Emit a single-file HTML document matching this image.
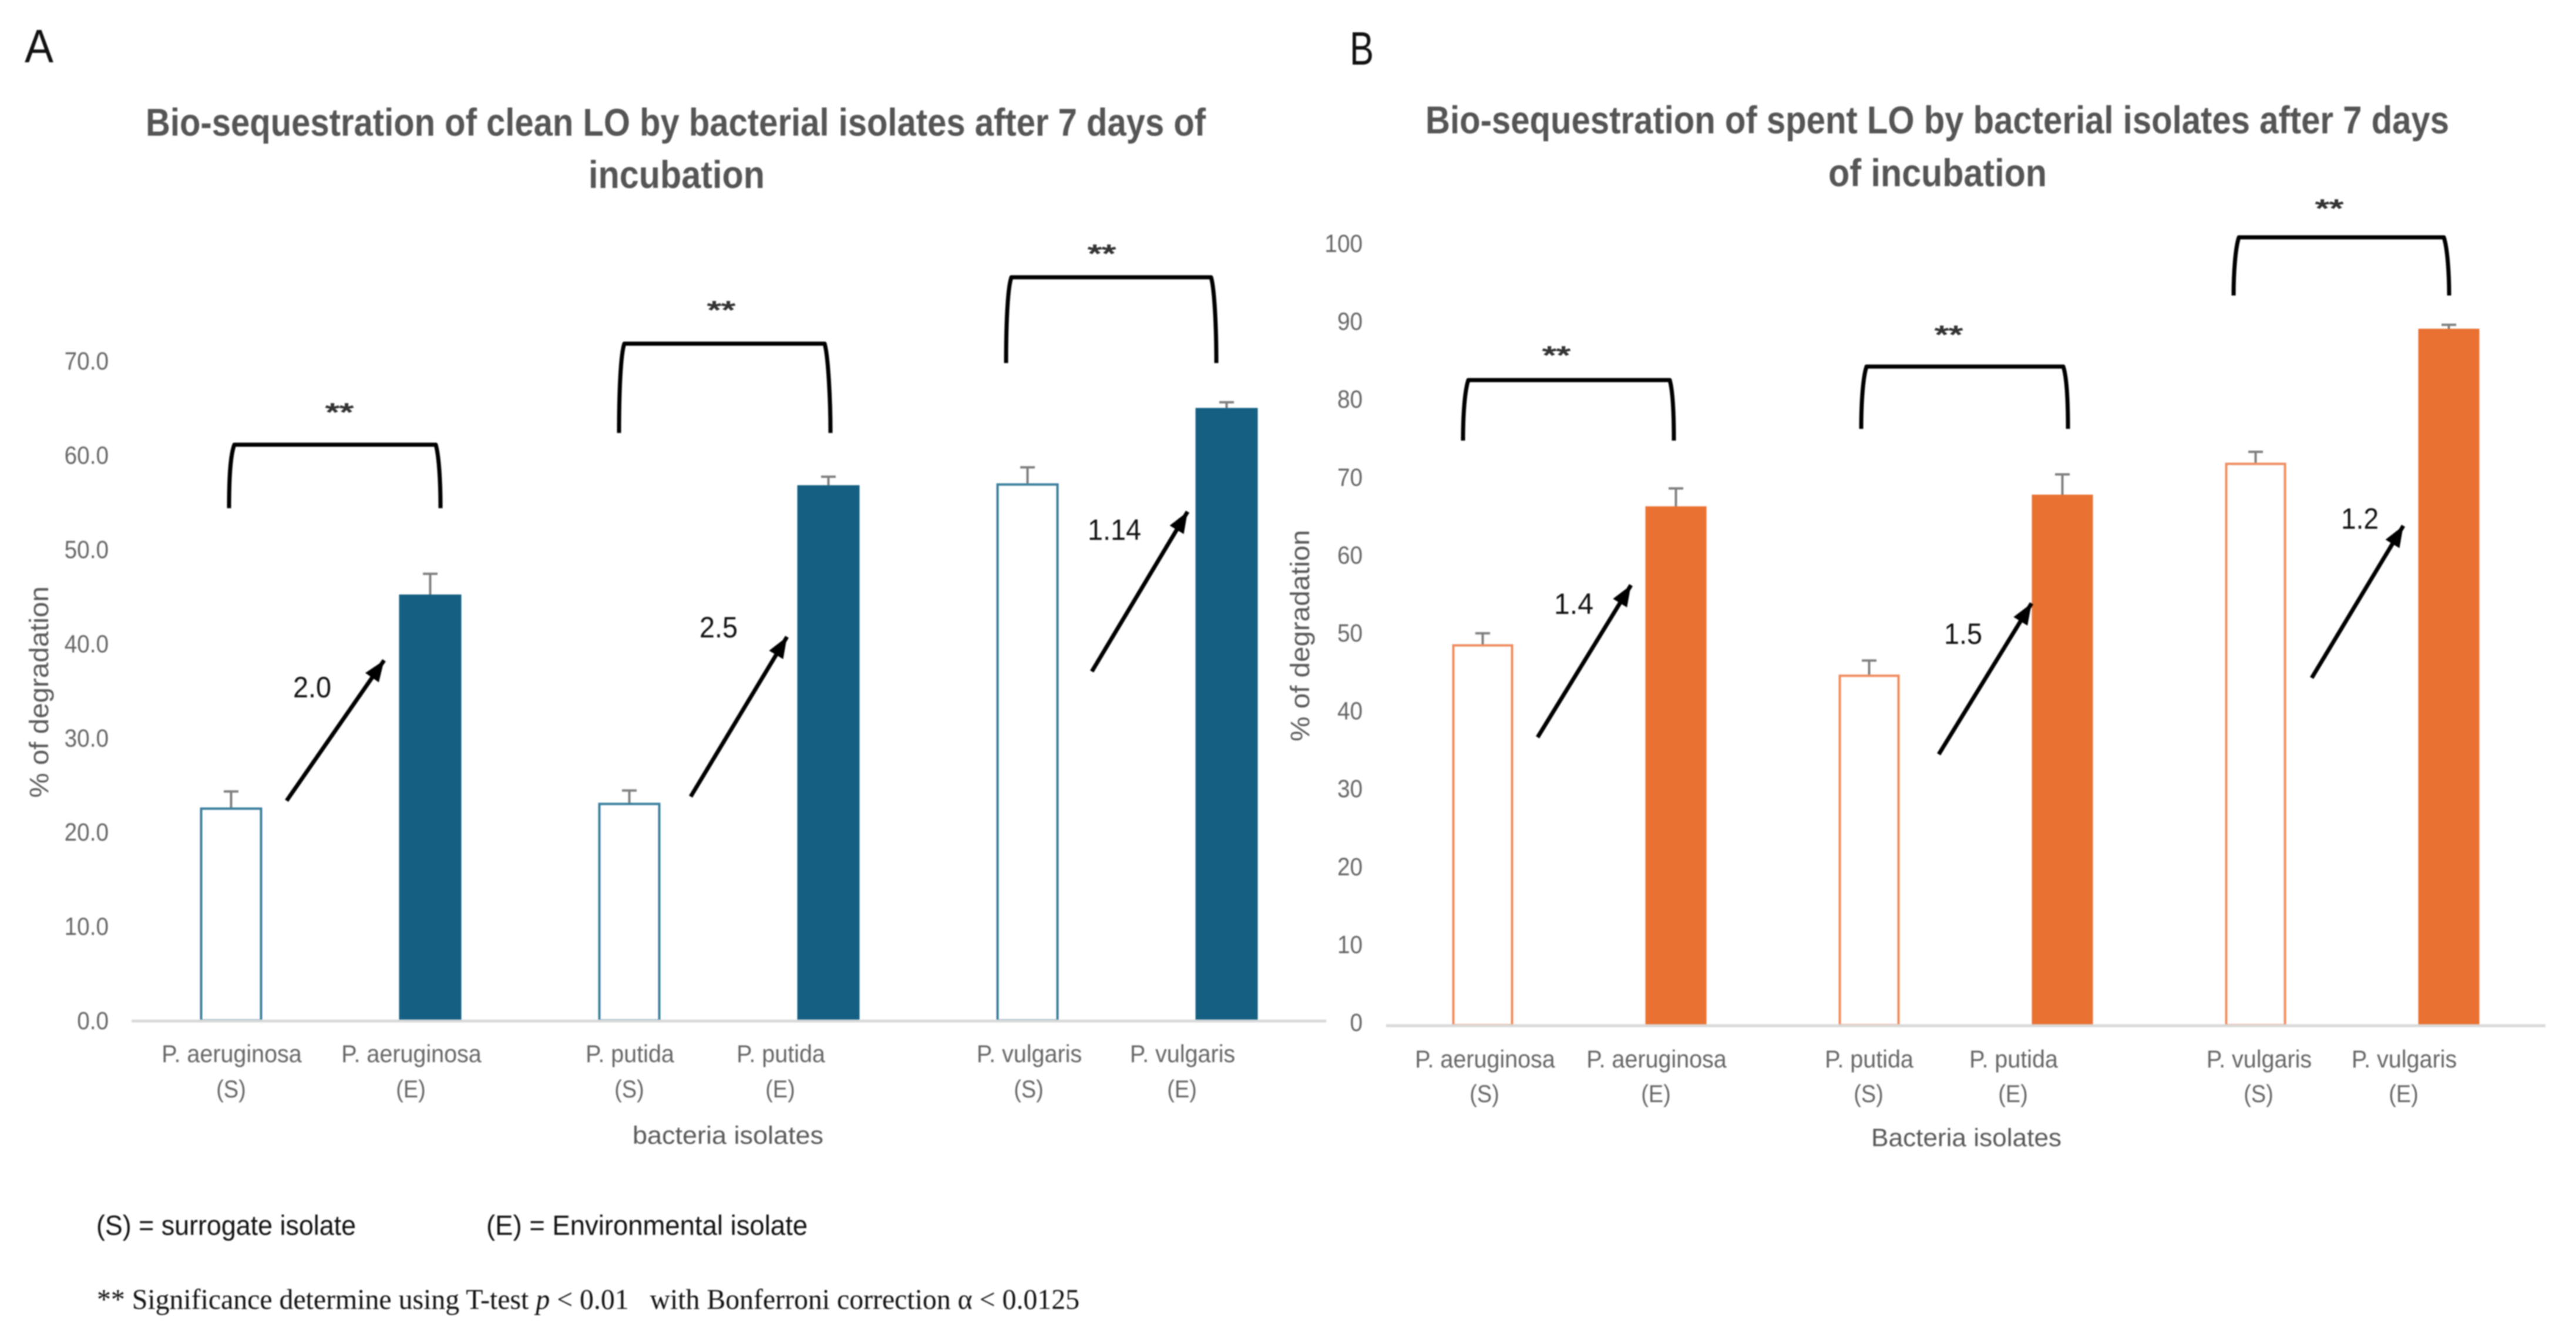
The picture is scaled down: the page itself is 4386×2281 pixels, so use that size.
<!DOCTYPE html>
<html lang="en">
<head>
<meta charset="utf-8">
<title>Bio-sequestration of LO by bacterial isolates</title>
<style>
html,body{margin:0;padding:0;background:#fff;width:4386px;height:2281px;overflow:hidden}
svg{display:block;filter:blur(1.1px)}
text{font-family:"Liberation Sans",sans-serif}
.title{font-weight:700;font-size:66px;fill:#555}
.panel{font-size:80px;fill:#111}
.axt{font-size:43px;fill:#595959}
.fold{font-size:50px;fill:#111}
.star{font-size:42px;fill:#333;stroke:#333;stroke-width:1.5}
.note{font-size:47px;fill:#111}
.serif{font-family:"Liberation Serif",serif;font-size:49px;fill:#111}
.bracket{fill:none;stroke:#000;stroke-width:7;stroke-linecap:butt;stroke-linejoin:round}
.arrow{stroke:#000;stroke-width:7;marker-end:url(#arrowhead)}
</style>
</head>
<body>
<svg id="figure" xmlns="http://www.w3.org/2000/svg" width="4386" height="2281" viewBox="0 0 4386 2281">
  <defs>
    <marker id="arrowhead" markerUnits="userSpaceOnUse" markerWidth="40" markerHeight="32" refX="36" refY="14" orient="auto">
      <path d="M0 0 L36 14 L0 28 Z" fill="#000"></path>
    </marker>
  </defs>
  <rect width="4386" height="2281" fill="#fff"></rect>

  <text class="panel" x="42" y="106" textLength="49" lengthAdjust="spacingAndGlyphs">A</text>
  <text class="panel" x="2298" y="110" textLength="41" lengthAdjust="spacingAndGlyphs">B</text>

  <g>
    <text class="title" x="248" y="231" textLength="1805" lengthAdjust="spacingAndGlyphs">Bio-sequestration of clean LO by bacterial isolates after 7 days of</text>
    <text class="title" x="1002" y="320" textLength="300" lengthAdjust="spacingAndGlyphs">incubation</text>
  </g>
  <g>
    <text class="title" x="2427" y="227" textLength="1743" lengthAdjust="spacingAndGlyphs">Bio-sequestration of spent LO by bacterial isolates after 7 days</text>
    <text class="title" x="3113" y="317" textLength="372" lengthAdjust="spacingAndGlyphs">of incubation</text>
  </g>

  <text class="axt" style="font-size:45px" transform="translate(82 1358) rotate(-90)" textLength="360" lengthAdjust="spacingAndGlyphs">% of degradation</text>
  <text class="axt" style="font-size:45px" transform="translate(2229 1262) rotate(-90)" textLength="360" lengthAdjust="spacingAndGlyphs">% of degradation</text>
  <text class="axt" x="1077" y="1947" textLength="325" lengthAdjust="spacingAndGlyphs">bacteria isolates</text>
  <text class="axt" x="3186" y="1951" textLength="324" lengthAdjust="spacingAndGlyphs">Bacteria isolates</text>

  <g id="chart-a"></g>
  <g id="chart-b"></g>

  <g>
    <path class="bracket" d="M390 865 C390 815 392 775 399 757 L742 757 C747 775 750 815 750 865"></path>
    <path class="bracket" d="M1054 737 C1054 680 1056 605 1063 585 L1404 585 C1410 605 1414 680 1414 737"></path>
    <path class="bracket" d="M1713 618 C1713 560 1715 492 1722 472 L2062 472 C2068 492 2071 560 2071 618"></path>
    <text class="star" x="578" y="716" text-anchor="middle" textLength="48" lengthAdjust="spacingAndGlyphs">**</text>
    <text class="star" x="1228" y="542" text-anchor="middle" textLength="48" lengthAdjust="spacingAndGlyphs">**</text>
    <text class="star" x="1876" y="446" text-anchor="middle" textLength="48" lengthAdjust="spacingAndGlyphs">**</text>
    <line class="arrow" x1="488" y1="1363" x2="654" y2="1124"></line>
    <line class="arrow" x1="1176" y1="1356" x2="1340" y2="1084"></line>
    <line class="arrow" x1="1859" y1="1143" x2="2022" y2="871"></line>
    <text class="fold" x="499" y="1187" textLength="65" lengthAdjust="spacingAndGlyphs">2.0</text>
    <text class="fold" x="1191" y="1085" textLength="65" lengthAdjust="spacingAndGlyphs">2.5</text>
    <text class="fold" x="1852" y="919" textLength="91" lengthAdjust="spacingAndGlyphs">1.14</text>
  </g>

  <g>
    <path class="bracket" d="M2491 750 C2491 705 2494 665 2500 647 L2843 647 C2848 665 2850 705 2850 750"></path>
    <path class="bracket" d="M3169 730 C3169 685 3172 642 3178 624 L3513 624 C3519 642 3521 685 3521 730"></path>
    <path class="bracket" d="M3803 503 C3803 465 3806 422 3812 404 L4161 404 C4167 422 4170 465 4170 503"></path>
    <text class="star" x="2650" y="619" text-anchor="middle" textLength="48" lengthAdjust="spacingAndGlyphs">**</text>
    <text class="star" x="3318" y="584" text-anchor="middle" textLength="48" lengthAdjust="spacingAndGlyphs">**</text>
    <text class="star" x="3966" y="369" text-anchor="middle" textLength="48" lengthAdjust="spacingAndGlyphs">**</text>
    <line class="arrow" x1="2618" y1="1255" x2="2777" y2="996"></line>
    <line class="arrow" x1="3301" y1="1284" x2="3459" y2="1027"></line>
    <line class="arrow" x1="3936" y1="1154" x2="4092" y2="895"></line>
    <text class="fold" x="2646" y="1045" textLength="67" lengthAdjust="spacingAndGlyphs">1.4</text>
    <text class="fold" x="3310" y="1096" textLength="65" lengthAdjust="spacingAndGlyphs">1.5</text>
    <text class="fold" x="3986" y="900" textLength="64" lengthAdjust="spacingAndGlyphs">1.2</text>
  </g>

  <g>
    <text class="note" x="164" y="2102" textLength="442" lengthAdjust="spacingAndGlyphs">(S) = surrogate isolate</text>
    <text class="note" x="828" y="2102" textLength="547" lengthAdjust="spacingAndGlyphs">(E) = Environmental isolate</text>
    <text class="serif" x="165" y="2228" textLength="1673" lengthAdjust="spacingAndGlyphs" xml:space="preserve">** Significance determine using T-test <tspan font-style="italic">p</tspan> &lt; 0.01   with Bonferroni correction α &lt; 0.0125</text>
  </g>
</svg>

<script>
// Chart A: clean LO
const categoriesA = ['P. aeruginosa (S)', 'P. aeruginosa (E)', 'P. putida (S)', 'P. putida (E)', 'P. vulgaris (S)', 'P. vulgaris (E)'];
const degradationCleanLO = [22.6, 45.2, 23.1, 56.8, 57.0, 65.0];
const errorCleanLO = [1.7, 2.2, 1.3, 0.9, 1.7, 0.6];
const tickLabelsA = ['0.0', '10.0', '20.0', '30.0', '40.0', '50.0', '60.0', '70.0'];

// Chart B: spent LO
const categoriesB = ['P. aeruginosa (S)', 'P. aeruginosa (E)', 'P. putida (S)', 'P. putida (E)', 'P. vulgaris (S)', 'P. vulgaris (E)'];
const degradationSpentLO = [48.9, 66.6, 45.0, 68.1, 72.2, 89.4];
const errorSpentLO = [1.4, 2.3, 1.8, 2.6, 1.4, 0.5];
const tickLabelsB = ['0', '10', '20', '30', '40', '50', '60', '70', '80', '90', '100'];

const SVG_NS = 'http://www.w3.org/2000/svg';

function make(parent, tag, attrs, content) {
  const el = document.createElementNS(SVG_NS, tag);
  for (const k in attrs) el.setAttribute(k, attrs[k]);
  if (content !== undefined) el.textContent = content;
  parent.appendChild(el);
  return el;
}

function condense(textEl, factor) {
  const natural = textEl.getComputedTextLength();
  textEl.setAttribute('textLength', natural * factor);
  textEl.setAttribute('lengthAdjust', 'spacingAndGlyphs');
}

function drawChart(root, cfg, categories, values, errors, ticks) {
  const band = (cfg.right - cfg.left) / categories.length;
  const xScale = function (i) { return cfg.left + band * (i + 0.5); };
  const yScale = function (v) { return cfg.baseline - v * cfg.pxPerUnit; };

  ticks.forEach(function (label) {
    const t = make(root, 'text', {
      x: cfg.tickRight,
      y: yScale(parseFloat(label)) + cfg.tickDy,
      'text-anchor': 'end',
      'font-size': 43,
      fill: '#666'
    }, label);
    
    
    condense(t, 0.9);
  });

  values.forEach(function (v, i) {
    const cx = xScale(i);
    const top = yScale(v);
    const isSurrogate = categories[i].indexOf('(S)') !== -1;
    const w = cfg.barWidth;
    const rect = make(root, 'rect', isSurrogate ? {
      x: cx - w / 2 + 2,
      y: top + 2,
      width: w - 4,
      height: cfg.baseline - top - 2,
      fill: '#fff',
      stroke: cfg.outline,
      'stroke-width': 4
    } : {
      x: cx - w / 2,
      y: top,
      width: w,
      height: cfg.baseline - top,
      fill: cfg.fill
    });
    
    

    const errTop = yScale(v + errors[i]);
    const stem = make(root, 'line', { x1: cx, x2: cx, y1: top, y2: errTop, stroke: '#7f7f7f', 'stroke-width': 4 });
    
    
    const cap = make(root, 'line', { x1: cx - 12.5, x2: cx + 12.5, y1: errTop, y2: errTop, stroke: '#7f7f7f', 'stroke-width': 4 });
    
    

    const splitAt = categories[i].lastIndexOf(' ');
    const lx = cx + cfg.labelNudge[i];
    const name = make(root, 'text', { x: lx, y: cfg.labelY1, 'text-anchor': 'middle', 'font-size': 42, fill: '#666' }, categories[i].slice(0, splitAt));
    
    
    condense(name, 0.94);
    const kind = make(root, 'text', { x: lx - 1, y: cfg.labelY2, 'text-anchor': 'middle', 'font-size': 42, fill: '#666' }, categories[i].slice(splitAt + 1));
    
    
    condense(kind, 0.9);
  });

  const axis = make(root, 'line', { x1: cfg.left, x2: cfg.right, y1: cfg.baseline + 1, y2: cfg.baseline + 1, stroke: '#d9d9d9', 'stroke-width': 5 });
  
  
}

drawChart(document.getElementById('chart-a'), {
  left: 224, right: 2258, baseline: 1737, pxPerUnit: 16.04, barWidth: 106,
  tickRight: 185, tickDy: 15, labelY1: 1808, labelY2: 1868,
  labelNudge: [1, -32, 1, -81, 3, -75],
  fill: '#156082', outline: '#3b7f9e'
}, categoriesA, degradationCleanLO, errorCleanLO, tickLabelsA);

drawChart(document.getElementById('chart-b'), {
  left: 2360, right: 4334, baseline: 1745, pxPerUnit: 13.26, barWidth: 104,
  tickRight: 2320, tickDy: 10, labelY1: 1817, labelY2: 1876,
  labelNudge: [4, -33, 0, -83, 6, -76],
  fill: '#E97132', outline: '#f08c5f'
}, categoriesB, degradationSpentLO, errorSpentLO, tickLabelsB);
</script>
</body>
</html>
